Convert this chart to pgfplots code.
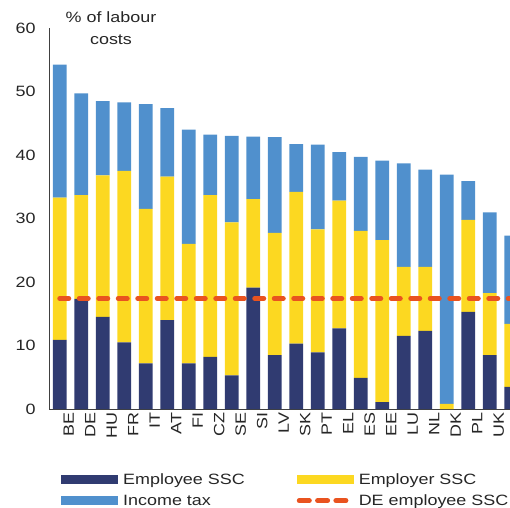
\documentclass[border=0pt]{standalone}
\usepackage{fontspec}
\setmainfont[FakeStretch=1.2]{Liberation Sans}
\usepackage{pgfplots}
\pgfplotsset{compat=1.18}
\definecolor{navy}{HTML}{303B71}
\definecolor{ylw}{HTML}{FCD821}
\definecolor{blu}{HTML}{5090CD}
\definecolor{org}{HTML}{E9531F}
\pgfplotsset{
  base/.style={
    scale only axis, width=473bp, height=381bp,
    xmin=-0.5, xmax=21.5, ymin=0, ymax=60,
  }
}
\begin{document}
\begin{tikzpicture}
\begin{axis}[base,
  ybar stacked, bar width=13.7bp,
  axis lines*=left,
  axis line style={draw=black!75, line width=0.8bp},
  major tick length=0pt,
  ytick={0,10,...,60},
  xtick={0,...,21},
  xticklabels={BE,DE,HU,FR,IT,AT,FI,CZ,SE,SI,LV,SK,PT,EL,ES,EE,LU,NL,DK,PL,UK,IE},
  ticklabel style={font=\fontsize{15}{18}\selectfont, text=black!85},
  /pgf/number format/assume math mode=true,
  yticklabel style={xshift=-10bp},
  xticklabel style={rotate=90, anchor=east, yshift=-9bp},
  legend columns=2,
  legend cell align=left,
  legend style={at={(0,0)}, anchor=north west, xshift=12bp, yshift=-62bp,
    draw=none, fill=none, inner sep=0pt, row sep=5bp,
    font=\fontsize{15}{18}\selectfont, text=black!85,
    nodes={inner xsep=5bp},
    /tikz/every even column/.append style={column sep=47bp}},
]
\addplot[fill=navy, draw=none, legend image code/.code={\fill[navy] (0bp,-4.7bp) rectangle (57bp,4.7bp);}] coordinates {
(0,10.9) (1,17.35) (2,14.5) (3,10.5) (4,7.2) (5,14.0) (6,7.2) (7,8.2) (8,5.3) (9,19.1) (10,8.5)
(11,10.3) (12,8.9) (13,12.7) (14,4.9) (15,1.1) (16,11.5) (17,12.3) (18,0) (19,15.3) (20,8.5) (21,3.5)};
\addlegendentry{Employee SSC}
\addplot[fill=ylw, draw=none, legend image code/.code={\fill[ylw] (0bp,-4.7bp) rectangle (57bp,4.7bp);}] coordinates {
(0,22.4) (1,16.35) (2,22.3) (3,27.0) (4,24.3) (5,22.6) (6,18.8) (7,25.5) (8,24.1) (9,13.95) (10,19.25)
(11,23.9) (12,19.4) (13,20.1) (14,23.15) (15,25.5) (16,10.9) (17,10.1) (18,0.8) (19,14.5) (20,9.75) (21,9.9)};
\addlegendentry{Employer SSC}
\addplot[fill=blu, draw=none, legend image code/.code={\fill[blu] (0bp,-4.5bp) rectangle (57bp,4.5bp);}] coordinates {
(0,20.95) (1,16.0) (2,11.7) (3,10.8) (4,16.5) (5,10.8) (6,18.0) (7,9.5) (8,13.6) (9,9.85) (10,15.05)
(11,7.5) (12,13.35) (13,7.65) (14,11.65) (15,12.5) (16,16.3) (17,15.3) (18,36.1) (19,6.1) (20,12.7) (21,13.9)};
\addlegendentry{Income tax}
\addlegendimage{legend image code/.code={\draw[org, line width=5bp, line cap=round, dash pattern=on 10bp off 8.3bp] (2.5bp,0) -- (54bp,0);}}
\addlegendentry{DE employee SSC}
\end{axis}
\begin{axis}[base, axis lines=none, ticks=none]
\addplot[org, line width=5bp, line cap=round, dash pattern=on 9bp off 10.5bp] coordinates {(0,17.4) (22,17.4)};
\end{axis}
\node[align=center, font=\fontsize{15}{22}\selectfont, text=black!85] at (62bp,381bp) {\% of labour\\costs};
\pgfresetboundingbox
\path (-49bp,-99bp) rectangle (461bp,409bp);
\end{tikzpicture}
\end{document}
